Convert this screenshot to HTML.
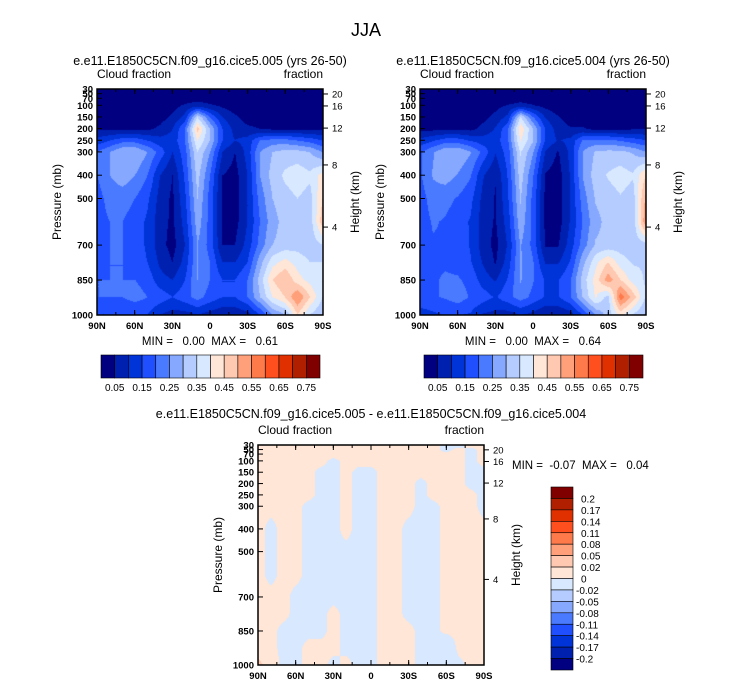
<!DOCTYPE html>
<html><head><meta charset="utf-8">
<style>
body{margin:0;background:#fff;width:733px;height:696px;overflow:hidden;position:relative;font-family:"Liberation Sans",sans-serif}
canvas{position:absolute}
svg{position:absolute;left:0;top:0}
text{white-space:pre}
</style></head>
<body>
<canvas id="c1" width="226" height="226" style="left:97px;top:89px"></canvas>
<canvas id="c2" width="226" height="226" style="left:420px;top:89px"></canvas>
<canvas id="c3" width="226" height="220" style="left:258px;top:445px"></canvas>
<svg id="s" width="733" height="696"></svg>
<script>
const lats=[90,80,70,60,50,40,30,20,10,0,-10,-20,-30,-40,-50,-60,-70,-80,-90];
const pres=[30,50,70,100,150,200,250,300,400,500,600,700,775,850,925,1000];
const cf1=[
[.02,.02,.02,.02,.02,.02,.02,.02,.02,.02,.02,.02,.02,.02,.02,.02,.02,.02,.02],
[.02,.02,.02,.02,.02,.02,.02,.02,.02,.02,.02,.02,.02,.02,.02,.02,.02,.02,.02],
[.02,.02,.02,.02,.02,.02,.02,.02,.03,.02,.02,.02,.02,.02,.02,.02,.02,.02,.02],
[.02,.02,.02,.02,.02,.02,.03,.06,.08,.06,.04,.02,.02,.02,.02,.02,.02,.02,.02],
[.03,.03,.03,.03,.03,.03,.06,.12,.35,.2,.1,.06,.03,.03,.03,.03,.03,.03,.03],
[.04,.04,.04,.04,.04,.06,.1,.2,.47,.3,.15,.08,.06,.05,.04,.04,.04,.04,.04],
[.12,.15,.18,.18,.15,.12,.12,.2,.4,.3,.15,.1,.12,.2,.22,.22,.2,.18,.15],
[.2,.25,.3,.3,.25,.18,.1,.18,.35,.25,.1,.05,.12,.25,.3,.32,.32,.3,.25],
[.2,.25,.28,.25,.2,.1,.05,.16,.32,.2,.05,.03,.1,.25,.32,.36,.38,.36,.42],
[.18,.22,.22,.2,.16,.08,.04,.14,.3,.18,.04,.03,.1,.22,.3,.33,.35,.33,.45],
[.18,.2,.2,.18,.14,.07,.04,.12,.28,.18,.04,.03,.1,.2,.28,.32,.33,.32,.48],
[.18,.2,.2,.18,.14,.07,.03,.1,.25,.18,.05,.05,.12,.22,.3,.32,.33,.32,.35],
[.18,.2,.2,.18,.15,.09,.05,.12,.25,.2,.1,.1,.15,.28,.38,.42,.38,.35,.35],
[.2,.2,.2,.2,.18,.12,.1,.15,.25,.2,.15,.15,.2,.32,.45,.5,.42,.38,.35],
[.2,.2,.2,.22,.2,.18,.15,.18,.22,.18,.15,.15,.2,.3,.4,.45,.55,.45,.35],
[.15,.15,.15,.15,.15,.1,.08,.08,.1,.08,.06,.06,.08,.15,.25,.3,.45,.35,.3]];
const diff=[
[.005,.005,.005,.005,.005,.005,.005,.005,.005,.005,.005,.005,.005,.005,.005,-.005,-.005,.005,.005],
[.005,.005,.005,.005,.005,.005,.005,.005,.005,.005,.005,.005,.005,.005,.005,-.005,.005,-.005,.005],
[.005,.005,.005,.005,.005,.005,.005,.005,.005,.005,.005,.005,.005,.005,.005,.005,.005,-.005,.005],
[.005,.005,.005,.005,.005,.005,-.005,.005,.005,.005,.005,.005,.005,.005,.005,.005,.005,-.005,.005],
[.005,.005,.005,.005,.005,-.005,-.005,.005,-.005,-.005,.005,.005,.005,.005,.005,.005,.005,-.005,-.005],
[.005,.005,.005,.005,.005,-.005,-.005,.005,-.005,-.005,.005,.005,.005,-.005,.005,.005,.005,-.005,-.005],
[.005,.005,.005,.005,.005,-.005,-.005,.005,-.005,-.005,.005,.005,.005,-.005,.005,.005,.005,.005,-.005],
[.005,.005,.005,.005,-.005,-.005,-.005,.005,-.005,-.005,.005,.005,.005,-.005,-.005,.005,.005,.005,-.005],
[.005,-.005,.005,.005,-.005,-.005,-.005,.005,-.005,-.005,.005,.005,-.005,-.005,-.005,.005,.005,.005,.005],
[.005,-.005,.005,.005,-.005,-.005,-.005,-.005,-.005,-.005,.005,.005,-.005,-.005,-.005,.005,.005,.005,.01],
[.005,-.005,.005,.005,-.005,-.005,-.005,-.005,-.005,-.005,.005,.005,-.005,-.005,-.005,.005,.005,.005,.01],
[.005,.005,.005,-.005,-.005,-.005,-.005,-.005,-.005,-.005,.005,.005,-.005,-.005,-.005,.005,.005,.005,.02],
[.005,.005,.005,-.005,-.005,-.005,.005,-.005,-.005,-.005,.005,.005,-.005,-.005,-.005,.005,.005,.005,.005],
[.005,.005,-.005,-.005,-.005,-.005,.005,-.005,-.005,-.005,.005,.005,.005,-.005,-.005,.005,.005,.005,.005],
[.01,.005,-.005,-.005,.005,.005,.005,-.005,-.005,-.005,.005,.005,.005,-.005,-.005,-.02,.005,.005,.005],
[.025,.01,-.005,-.005,.005,.005,-.005,.005,-.005,-.005,.005,.005,.005,-.005,-.005,-.02,-.005,.005,.005]];
const cbLabelsTop=["0.05","0.15","0.25","0.35","0.45","0.55","0.65","0.75"];
const cbLabelsDiff=["0.2","0.17","0.14","0.11","0.08","0.05","0.02","0","-0.02","-0.05","-0.08","-0.11","-0.14","-0.17","-0.2"];
const levTop=[.05,.1,.15,.2,.25,.3,.35,.4,.45,.5,.55,.6,.65,.7,.75];
const levDiff=[-.2,-.17,-.14,-.11,-.08,-.05,-.02,0,.02,.05,.08,.11,.14,.17,.2];
const pTicks=[30,50,70,100,150,200,250,300,400,500,700,850,1000];
const latTicks=[90,60,30,0,-30,-60,-90];
const hTicks=[20,16,12,8,4];const hFrac=[.022,.075,.173,.336,.611];
const cols=['#000080','#0020b0','#0033d8','#1f4fff','#4a7aff','#87a8ff','#b4ccff','#d8e8ff','#ffe6d6','#ffc8b0','#ffa07a','#ff7a4a','#ff4f1f','#e03000','#b02000','#800000'];
const hex=c=>[1,3,5].map(i=>parseInt(c.substr(i,2),16));
function lvl(v,lev){let i=0;while(i<lev.length&&v>=lev[i])i++;return i;}
function field(ctx,W,H,grid,lev){
  const img=ctx.createImageData(W,H);
  for(let y=0;y<H;y++){const p=30+970*y/(H-1);let j=0;while(j<pres.length-2&&p>pres[j+1])j++;
    const tp=(p-pres[j])/(pres[j+1]-pres[j]);
    for(let x=0;x<W;x++){const la=90-180*x/(W-1);const fi=(90-la)/10;let i=Math.min(17,Math.floor(fi));const tl=fi-i;
      const v=(grid[j][i]*(1-tl)+grid[j][i+1]*tl)*(1-tp)+(grid[j+1][i]*(1-tl)+grid[j+1][i+1]*tl)*tp;
      const c=hex(cols[lvl(v,lev)]);const k=(y*W+x)*4;img.data[k]=c[0];img.data[k+1]=c[1];img.data[k+2]=c[2];img.data[k+3]=255;}}
  ctx.putImageData(img,0,0);
}
const cf2=cf1.map((r,j)=>r.map((v,i)=>Math.max(0,v-diff[j][i]*(v>0.4?-6:1))));
field(document.getElementById('c1').getContext('2d'),226,226,cf1,levTop);
field(document.getElementById('c2').getContext('2d'),226,226,cf2,levTop);
field(document.getElementById('c3').getContext('2d'),226,220,diff,levDiff);
const S=document.getElementById('s');const NS='http://www.w3.org/2000/svg';
function el(t,a,txt){const e=document.createElementNS(NS,t);for(const k in a)e.setAttribute(k,a[k]);if(txt!=null)e.textContent=txt;S.appendChild(e);return e;}
function txt(x,y,s,size,anchor,name,extra){const e=el('text',Object.assign({x:x,y:y,'font-size':size,'text-anchor':anchor||'middle',fill:'#000'},extra||{}),s);

return e;}
txt(366,36,'JJA',18,'middle','main-title');
function panel(L,T,W,H,title,ty,mm,mmx,mmy,mmAnchor,nm){
  txt(L+W/2,ty,title,12.5,'middle',nm+'-title');
  txt(L,T-11,'Cloud fraction',12,'start',nm+'-left-string');
  txt(L+W,T-11,'fraction',12,'end',nm+'-right-string');
  const f=el('rect',{x:L,y:T,width:W,height:H,fill:'none',stroke:'#000','stroke-width':1.5});
  
  
  pTicks.forEach(p=>{const y=T+H*(p-30)/970;el('line',{x1:L,x2:L+5,y1:y,y2:y,stroke:'#000'});
    const t=txt(L-4,y+3.5,String(p),9.5,'end',nm+'-y-tick-label');t.setAttribute('font-weight','bold');});
  latTicks.forEach(la=>{const x=L+W*(90-la)/180;el('line',{x1:x,x2:x,y1:T+H,y2:T+H-5,stroke:'#000'});el('line',{x1:x,x2:x,y1:T,y2:T+5,stroke:'#000'});
    const s=la===0?'0':Math.abs(la)+(la>0?'N':'S');const t=txt(x,T+H+14,s,9.5,'middle',nm+'-x-tick-label');t.setAttribute('font-weight','bold');});
  for(let la=75;la>-90;la-=15){const x=L+W*(90-la)/180;el('line',{x1:x,x2:x,y1:T,y2:T+3,stroke:'#000'});el('line',{x1:x,x2:x,y1:T+H,y2:T+H-3,stroke:'#000'});}
  hTicks.forEach((h,i)=>{const y=T+H*hFrac[i];el('line',{x1:L+W,x2:L+W+5,y1:y,y2:y,stroke:'#000'});
    txt(L+W+9,y+3.5,String(h),9.5,'start',nm+'-height-tick-label');});
  txt(L-36,T+H/2,'Pressure (mb)',12,'middle',nm+'-y-axis-title',{transform:`rotate(-90 ${L-36} ${T+H/2})`});
  txt(L+W+36,T+H/2,'Height (km)',12,'middle',nm+'-height-axis-title',{transform:`rotate(-90 ${L+W+36} ${T+H/2})`});
  txt(mmx,mmy,mm,11.5,mmAnchor,nm+'-min-max');
}
panel(97,89,226,226,'e.e11.E1850C5CN.f09_g16.cice5.005 (yrs 26-50)',65,'MIN =   0.00  MAX =   0.61',210,345,'middle','panel-005');
panel(420,89,226,226,'e.e11.E1850C5CN.f09_g16.cice5.004 (yrs 26-50)',65,'MIN =   0.00  MAX =   0.64',533,345,'middle','panel-004');
panel(258,445,226,220,'e.e11.E1850C5CN.f09_g16.cice5.005 - e.e11.E1850C5CN.f09_g16.cice5.004',418,'MIN =  -0.07  MAX =   0.04',512,469,'start','panel-diff');
function hbar(L,nm){const T=355,w=219/16;
  cols.forEach((c,i)=>{const r=el('rect',{x:L+i*w,y:T,width:w,height:23,fill:c,stroke:'#000','stroke-width':0.6});
    
    });
  cbLabelsTop.forEach((s,k)=>txt(L+(2*k+1)*w,T+36,s,10,'middle',nm+'-label'));}
hbar(101,'colorbar-005');hbar(424,'colorbar-004');
(function(){const L=551,T=487,h=183/16;
  cols.slice().reverse().forEach((c,i)=>{const r=el('rect',{x:L,y:T+i*h,width:22,height:h,fill:c,stroke:'#000','stroke-width':0.6});
    
    });
  cbLabelsDiff.forEach((s,k)=>txt(s[0]==='-'?576:581,T+(k+1)*h+4,s,10,'start','colorbar-diff-label'));})();
</script>
</body></html>
